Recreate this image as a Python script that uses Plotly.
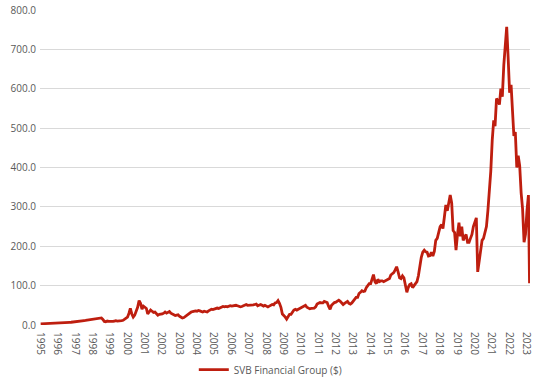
import plotly.graph_objects as go

start_year = 1995
# Approximate monthly closing prices (USD)
p1995 = [3.0, 3.1, 3.3, 3.5, 3.6, 3.8, 4.0, 4.3, 4.5, 4.6, 4.8, 5.0]
p1996 = [5.2, 5.5, 5.6, 5.8, 6.0, 6.3, 6.0, 6.4, 6.8, 7.0, 7.3, 7.5]
p1997 = [8.0, 8.5, 8.2, 8.8, 9.5, 10.0, 11.0, 11.5, 12.0, 12.5, 13.0, 13.5]
p1998 = [14.0, 15.0, 16.0, 17.0, 16.5, 17.0, 18.0, 14.0, 9.0, 8.0, 10.0, 9.0]
p1999 = [9.0, 8.0, 9.0, 10.0, 11.0, 10.0, 10.0, 11.0, 11.0, 12.0, 14.0, 16.0]
p2000 = [20.0, 30.0, 42.0, 28.0, 20.0, 25.0, 35.0, 45.0, 62.0, 55.0, 40.0, 48.0]
p2001 = [45.0, 42.0, 28.0, 35.0, 38.0, 35.0, 32.0, 33.0, 28.0, 25.0, 27.0, 27.0]
p2002 = [28.0, 30.0, 33.0, 30.0, 32.0, 34.0, 30.0, 28.0, 25.0, 24.0, 25.0, 26.0]
p2003 = [22.0, 20.0, 18.0, 19.0, 22.0, 25.0, 27.0, 30.0, 33.0, 34.0, 35.0, 36.0]
p2004 = [35.0, 37.0, 36.0, 34.0, 33.0, 35.0, 34.0, 33.0, 36.0, 38.0, 40.0, 39.0]
p2005 = [40.0, 42.0, 43.0, 42.0, 44.0, 46.0, 47.0, 46.0, 47.0, 46.0, 48.0, 49.0]
p2006 = [48.0, 49.0, 50.0, 50.0, 49.0, 48.0, 46.0, 47.0, 49.0, 51.0, 52.0, 50.0]
p2007 = [50.0, 51.0, 50.0, 51.0, 52.0, 53.0, 49.0, 51.0, 52.0, 50.0, 48.0, 50.0]
p2008 = [48.0, 46.0, 48.0, 50.0, 52.0, 51.0, 56.0, 57.0, 62.0, 55.0, 45.0, 28.0]
p2009 = [25.0, 20.0, 15.0, 22.0, 27.0, 27.0, 33.0, 38.0, 40.0, 38.0, 40.0, 42.0]
p2010 = [43.0, 46.0, 47.0, 50.0, 45.0, 42.0, 41.0, 42.0, 42.0, 43.0, 46.0, 53.0]
p2011 = [55.0, 57.0, 56.0, 56.0, 60.0, 59.0, 57.0, 47.0, 40.0, 50.0, 55.0, 57.0]
p2012 = [58.0, 60.0, 63.0, 60.0, 55.0, 52.0, 55.0, 57.0, 60.0, 55.0, 53.0, 56.0]
p2013 = [62.0, 66.0, 70.0, 70.0, 80.0, 83.0, 87.0, 85.0, 86.0, 95.0, 100.0, 105.0]
p2014 = [105.0, 115.0, 128.0, 110.0, 105.0, 116.0, 110.0, 112.0, 112.0, 110.0, 112.0, 116.0]
p2015 = [116.0, 118.0, 127.0, 130.0, 133.0, 140.0, 148.0, 135.0, 120.0, 118.0, 125.0, 120.0]
p2016 = [100.0, 83.0, 95.0, 103.0, 105.0, 95.0, 100.0, 105.0, 110.0, 125.0, 155.0, 172.0]
p2017 = [185.0, 190.0, 186.0, 185.0, 175.0, 176.0, 185.0, 175.0, 187.0, 215.0, 220.0, 234.0]
p2018 = [250.0, 255.0, 245.0, 275.0, 305.0, 290.0, 310.0, 330.0, 310.0, 240.0, 235.0, 190.0]
p2019 = [230.0, 260.0, 225.0, 250.0, 215.0, 225.0, 230.0, 210.0, 210.0, 220.0, 230.0, 250.0]
p2020 = [260.0, 272.0, 135.0, 165.0, 200.0, 215.0, 220.0, 240.0, 250.0, 290.0, 340.0, 390.0]
p2021 = [470.0, 520.0, 505.0, 575.0, 570.0, 560.0, 600.0, 580.0, 660.0, 715.0, 757.0, 680.0]
p2022 = [590.0, 610.0, 560.0, 480.0, 490.0, 400.0, 430.0, 405.0, 335.0, 295.0, 210.0, 230.0]
p2023 = [290.0, 330.0, 106.0]

yearly = [p1995, p1996, p1997, p1998, p1999, p2000, p2001, p2002, p2003, p2004,
          p2005, p2006, p2007, p2008, p2009, p2010, p2011, p2012, p2013, p2014,
          p2015, p2016, p2017, p2018, p2019, p2020, p2021, p2022, p2023]

dates, prices = [], []
for i, vals in enumerate(yearly):
    y = start_year + i
    for m, v in enumerate(vals):
        day = 15
        if y == 2023 and m == 2:
            day = 10
        dates.append(f"{y}-{m + 1:02d}-{day:02d}")
        prices.append(v)

year_ticks = [f"{y}-01-01" for y in range(1995, 2024)]
year_labels = [str(y) for y in range(1995, 2024)]

font_family = "Open Sans, Lato, sans-serif"
grey = "#595959"

fig = go.Figure()
fig.add_trace(go.Scatter(
    x=dates, y=prices, mode="lines", name="SVB Financial Group ($)",
    line=dict(color="#BE1E0F", width=2.8),
))

fig.update_layout(
    width=534, height=383,
    margin=dict(l=40, r=4, t=10, b=58, autoexpand=False),
    paper_bgcolor="white", plot_bgcolor="white",
    font=dict(family=font_family, size=10, color=grey),
    showlegend=True,
    legend=dict(orientation="h", x=0.47, xanchor="center",
                yref="container", y=0.035, yanchor="middle",
                font=dict(size=10, color=grey)),
)
fig.update_xaxes(
    type="date", range=["1995-01-01", "2023-03-20"],
    tickmode="array", tickvals=year_ticks, ticktext=year_labels,
    tickangle=90, showgrid=False, zeroline=False, showline=False,
    ticks="", ticklabelstandoff=6, automargin=False,
    ticklabeloverflow="allow",
    tickfont=dict(size=10, color=grey),
)
fig.update_yaxes(
    range=[0, 800], dtick=100, tickformat=".1f",
    showgrid=True, gridcolor="#D9D9D9", gridwidth=1,
    zeroline=False, showline=False, ticks="", automargin=False,
    ticklabelstandoff=3,
    tickfont=dict(size=10, color=grey),
)

fig.write_html("out.html")
